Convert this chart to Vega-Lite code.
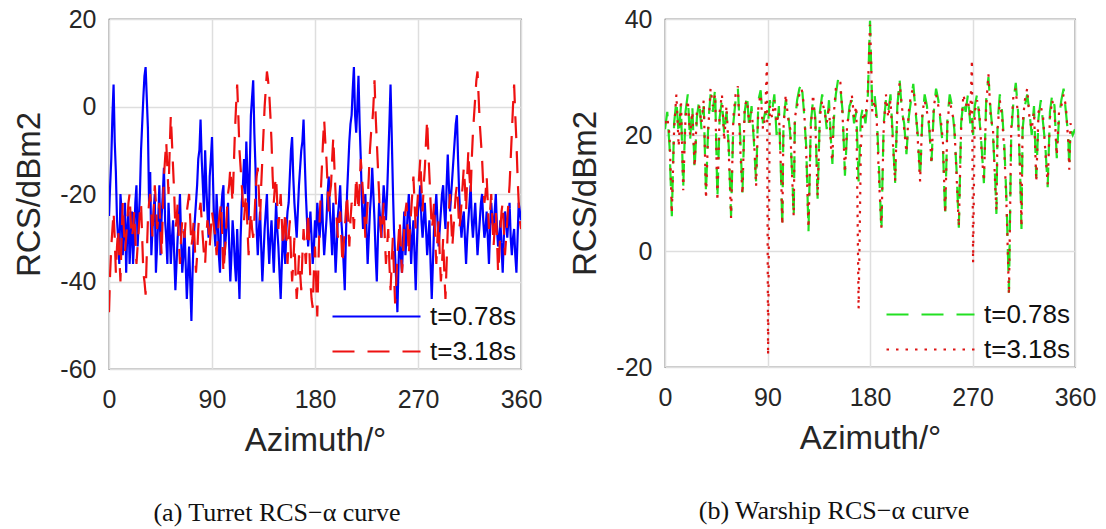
{
"$schema": "https://vega.github.io/schema/vega-lite/v6.json",
"background": "white",
"padding": {"left": 13, "top": 6, "right": 5, "bottom": 0},
"config": {
  "font": "Liberation Sans",
  "view": {"stroke": "#262626", "strokeWidth": 1.2},
  "axis": {"labelFontSize": 25, "titleFontSize": 33, "labelColor": "#262626", "titleColor": "#262626", "titleFontWeight": "normal", "gridColor": "#dedede", "gridWidth": 1.5, "domain": false, "ticks": false, "labelFlush": false, "labelExpr": "datum.value + ''"},
  "axisX": {"labelPadding": 18, "titlePadding": 12},
  "axisY": {"labelPadding": 13, "titlePadding": 13},
  "legend": {"orient": "bottom-right", "title": null, "symbolType": "M-3.4,0H1", "symbolSize": 1600, "symbolStrokeWidth": 2.2, "labelFontSize": 26, "labelColor": "#111111", "rowPadding": -2, "offset": 4, "padding": 0, "labelOffset": 8},
  "title": {"font": "Liberation Serif", "fontSize": 26, "fontWeight": "normal", "orient": "bottom", "anchor": "middle", "color": "#111111", "offset": 43},
  "concat": {"spacing": 26}
},
"resolve": {"scale": {"color": "independent", "strokeDash": "independent"}, "legend": {"color": "independent", "strokeDash": "independent"}},
"hconcat": [
{
  "width": 412, "height": 350,
  "title": {"text": "(a) Turret RCS−α curve", "dx": -38},
  "data": {"values": [
{"x":0,"u":-25,"v":-47},{"x":2,"u":-12,"v":-32},{"x":4,"u":5,"v":-24},{"x":6,"u":-15,"v":-38},{"x":8,"u":-30,"v":-28},{"x":10,"u":-20,"v":-40},{"x":12,"u":-34,"v":-22},{"x":14,"u":-22,"v":-33},{"x":16,"u":-28,"v":-26},{"x":18,"u":-36,"v":-20},
{"x":20,"u":-24,"v":-30},{"x":22,"u":-30,"v":-24},{"x":24,"u":-18,"v":-36},{"x":26,"u":-26,"v":-28},{"x":28,"u":-10,"v":-22},{"x":30,"u":2,"v":-38},{"x":32,"u":9,"v":-43},{"x":34,"u":-5,"v":-26},{"x":36,"u":-15,"v":-20},{"x":38,"u":-28,"v":-30},
{"x":40,"u":-20,"v":-18},{"x":42,"u":-32,"v":-28},{"x":44,"u":-18,"v":-22},{"x":46,"u":-25,"v":-34},{"x":48,"u":-14,"v":-16},{"x":50,"u":-30,"v":-8},{"x":52,"u":-22,"v":-20},{"x":54,"u":-36,"v":-2},{"x":56,"u":-26,"v":-14},{"x":58,"u":-42,"v":-28},
{"x":60,"u":-30,"v":-22},{"x":62,"u":-20,"v":-36},{"x":64,"u":-38,"v":-26},{"x":66,"u":-28,"v":-30},{"x":68,"u":-44,"v":-24},{"x":70,"u":-32,"v":-20},{"x":72,"u":-49,"v":-32},{"x":74,"u":-30,"v":-26},{"x":76,"u":-22,"v":-38},{"x":78,"u":-12,"v":-28},
{"x":80,"u":-3,"v":-22},{"x":82,"u":-18,"v":-30},{"x":84,"u":-10,"v":-36},{"x":86,"u":-24,"v":-26},{"x":88,"u":-16,"v":-32},{"x":90,"u":-7,"v":-24},{"x":92,"u":-28,"v":-28},{"x":94,"u":-20,"v":-34},{"x":96,"u":-34,"v":-26},{"x":98,"u":-24,"v":-22},
{"x":100,"u":-18,"v":-38},{"x":102,"u":-30,"v":-30},{"x":104,"u":-22,"v":-20},{"x":106,"u":-40,"v":-14},{"x":108,"u":-26,"v":-22},{"x":110,"u":-36,"v":-6},{"x":112,"u":-28,"v":5},{"x":114,"u":-44,"v":-10},{"x":116,"u":-22,"v":-18},{"x":118,"u":-12,"v":-26},
{"x":120,"u":-8,"v":-20},{"x":122,"u":-26,"v":-34},{"x":124,"u":-2,"v":-24},{"x":126,"u":6,"v":-30},{"x":128,"u":-14,"v":-20},{"x":130,"u":-34,"v":-14},{"x":132,"u":-24,"v":-26},{"x":134,"u":-40,"v":-12},{"x":136,"u":-28,"v":0},{"x":138,"u":-20,"v":8},
{"x":140,"u":-36,"v":3},{"x":142,"u":-26,"v":-8},{"x":144,"u":-38,"v":-22},{"x":146,"u":-22,"v":-16},{"x":148,"u":-32,"v":-28},{"x":150,"u":-44,"v":-20},{"x":152,"u":-28,"v":-32},{"x":154,"u":-36,"v":-24},{"x":156,"u":-24,"v":-36},{"x":158,"u":-16,"v":-26},
{"x":160,"u":-7,"v":-40},{"x":162,"u":-22,"v":-30},{"x":164,"u":-30,"v":-44},{"x":166,"u":-18,"v":-34},{"x":168,"u":-10,"v":-42},{"x":170,"u":-3,"v":-28},{"x":172,"u":-20,"v":-36},{"x":174,"u":-32,"v":-24},{"x":176,"u":-24,"v":-40},{"x":178,"u":-36,"v":-46},
{"x":180,"u":-26,"v":-32},{"x":182,"u":-22,"v":-48},{"x":184,"u":-30,"v":-26},{"x":186,"u":-20,"v":-14},{"x":188,"u":-34,"v":-3},{"x":190,"u":-26,"v":-12},{"x":192,"u":-16,"v":-24},{"x":194,"u":-28,"v":-18},{"x":196,"u":-22,"v":-7},{"x":198,"u":-38,"v":-20},
{"x":200,"u":-25,"v":-30},{"x":202,"u":-18,"v":-24},{"x":204,"u":-30,"v":-36},{"x":206,"u":-42,"v":-28},{"x":208,"u":-20,"v":-20},{"x":210,"u":-8,"v":-32},{"x":212,"u":-2,"v":-22},{"x":214,"u":9,"v":-28},{"x":216,"u":-6,"v":-16},{"x":218,"u":7,"v":-24},
{"x":220,"u":-12,"v":-12},{"x":222,"u":-28,"v":-20},{"x":224,"u":-20,"v":-30},{"x":226,"u":-36,"v":-22},{"x":228,"u":-24,"v":-10},{"x":230,"u":-14,"v":-4},{"x":232,"u":-26,"v":6},{"x":234,"u":-40,"v":-8},{"x":236,"u":-22,"v":-20},{"x":238,"u":-30,"v":-30},
{"x":240,"u":-18,"v":-22},{"x":242,"u":-26,"v":-36},{"x":244,"u":-12,"v":-28},{"x":246,"u":5,"v":-42},{"x":248,"u":-18,"v":-30},{"x":250,"u":-34,"v":-45},{"x":252,"u":-47,"v":-34},{"x":254,"u":-28,"v":-26},{"x":256,"u":-38,"v":-38},{"x":258,"u":-24,"v":-28},
{"x":260,"u":-30,"v":-22},{"x":262,"u":-20,"v":-34},{"x":264,"u":-36,"v":-24},{"x":266,"u":-26,"v":-16},{"x":268,"u":-42,"v":-28},{"x":270,"u":-24,"v":-20},{"x":272,"u":-18,"v":-12},{"x":274,"u":-30,"v":-24},{"x":276,"u":-22,"v":-14},{"x":278,"u":-34,"v":-3},
{"x":280,"u":-26,"v":-16},{"x":282,"u":-44,"v":-28},{"x":284,"u":-28,"v":-22},{"x":286,"u":-20,"v":-36},{"x":288,"u":-32,"v":-26},{"x":290,"u":-24,"v":-40},{"x":292,"u":-18,"v":-30},{"x":294,"u":-28,"v":-44},{"x":296,"u":-11,"v":-28},{"x":298,"u":-24,"v":-20},
{"x":300,"u":-16,"v":-32},{"x":302,"u":-8,"v":-24},{"x":304,"u":-2,"v":-18},{"x":306,"u":-20,"v":-28},{"x":308,"u":-30,"v":-22},{"x":310,"u":-24,"v":-14},{"x":312,"u":-36,"v":-24},{"x":314,"u":-26,"v":-10},{"x":316,"u":-18,"v":-20},{"x":318,"u":-30,"v":-6},
{"x":320,"u":-22,"v":2},{"x":322,"u":-34,"v":8},{"x":324,"u":-26,"v":-4},{"x":326,"u":-20,"v":-12},{"x":328,"u":-30,"v":-22},{"x":330,"u":-24,"v":-16},{"x":332,"u":-36,"v":-28},{"x":334,"u":-22,"v":-20},{"x":336,"u":-28,"v":-32},{"x":338,"u":-20,"v":-24},
{"x":340,"u":-32,"v":-38},{"x":342,"u":-26,"v":-28},{"x":344,"u":-38,"v":-22},{"x":346,"u":-24,"v":-34},{"x":348,"u":-30,"v":-26},{"x":350,"u":-22,"v":-18},{"x":352,"u":-34,"v":-6},{"x":354,"u":-28,"v":5},{"x":356,"u":-38,"v":-8},{"x":358,"u":-22,"v":-22},
{"x":360,"u":-26,"v":-28},
{"x":1,"u":-18,"v":-38},{"x":3,"u":-2,"v":-28},{"x":5,"u":-8,"v":-30},{"x":7,"u":-26,"v":-32},{"x":9,"u":-36,"v":-34},{"x":11,"u":-24,"v":-30},{"x":13,"u":-28,"v":-28},{"x":15,"u":-38,"v":-30},{"x":17,"u":-24,"v":-22},{"x":19,"u":-30,"v":-26},
{"x":21,"u":-36,"v":-28},{"x":23,"u":-22,"v":-30},{"x":25,"u":-32,"v":-32},{"x":27,"u":-20,"v":-24},{"x":29,"u":-4,"v":-30},{"x":31,"u":7,"v":-40},{"x":33,"u":2,"v":-34},{"x":35,"u":-22,"v":-22},{"x":37,"u":-34,"v":-24},{"x":39,"u":-24,"v":-24},
{"x":41,"u":-38,"v":-22},{"x":43,"u":-26,"v":-26},{"x":45,"u":-34,"v":-28},{"x":47,"u":-20,"v":-24},{"x":49,"u":-26,"v":-12},{"x":51,"u":-36,"v":-14},{"x":53,"u":-28,"v":-10},{"x":55,"u":-30,"v":-8},{"x":57,"u":-34,"v":-20},{"x":59,"u":-36,"v":-26},
{"x":61,"u":-26,"v":-30},{"x":63,"u":-30,"v":-30},{"x":65,"u":-34,"v":-28},{"x":67,"u":-36,"v":-26},{"x":69,"u":-38,"v":-22},{"x":71,"u":-40,"v":-26},{"x":73,"u":-38,"v":-30},{"x":75,"u":-26,"v":-32},{"x":77,"u":-18,"v":-34},{"x":79,"u":-10,"v":-24},
{"x":81,"u":-12,"v":-26},{"x":83,"u":-24,"v":-34},{"x":85,"u":-18,"v":-30},{"x":87,"u":-30,"v":-28},{"x":89,"u":-12,"v":-28},{"x":91,"u":-18,"v":-26},{"x":93,"u":-32,"v":-30},{"x":95,"u":-26,"v":-30},{"x":97,"u":-38,"v":-24},{"x":99,"u":-20,"v":-30},
{"x":101,"u":-34,"v":-34},{"x":103,"u":-26,"v":-24},{"x":105,"u":-32,"v":-18},{"x":107,"u":-34,"v":-18},{"x":109,"u":-30,"v":-14},{"x":111,"u":-40,"v":0},{"x":113,"u":-36,"v":-2},{"x":115,"u":-30,"v":-14},{"x":117,"u":-18,"v":-22},{"x":119,"u":-20,"v":-22},
{"x":121,"u":-16,"v":-28},{"x":123,"u":-14,"v":-28},{"x":125,"u":2,"v":-28},{"x":127,"u":-6,"v":-26},{"x":129,"u":-28,"v":-16},{"x":131,"u":-28,"v":-20},{"x":133,"u":-32,"v":-18},{"x":135,"u":-34,"v":-6},{"x":137,"u":-24,"v":4},{"x":139,"u":-30,"v":6},
{"x":141,"u":-30,"v":-2},{"x":143,"u":-32,"v":-16},{"x":145,"u":-30,"v":-18},{"x":147,"u":-28,"v":-22},{"x":149,"u":-38,"v":-24},{"x":151,"u":-36,"v":-26},{"x":153,"u":-32,"v":-28},{"x":155,"u":-28,"v":-30},{"x":157,"u":-22,"v":-30},{"x":159,"u":-10,"v":-34},
{"x":161,"u":-16,"v":-36},{"x":163,"u":-26,"v":-38},{"x":165,"u":-24,"v":-40},{"x":167,"u":-14,"v":-38},{"x":169,"u":-8,"v":-34},{"x":171,"u":-12,"v":-32},{"x":173,"u":-26,"v":-30},{"x":175,"u":-28,"v":-32},{"x":177,"u":-30,"v":-44},{"x":179,"u":-32,"v":-38},
{"x":181,"u":-30,"v":-40},{"x":183,"u":-26,"v":-36},{"x":185,"u":-26,"v":-20},{"x":187,"u":-28,"v":-8},{"x":189,"u":-30,"v":-8},{"x":191,"u":-20,"v":-18},{"x":193,"u":-24,"v":-20},{"x":195,"u":-34,"v":-12},{"x":197,"u":-30,"v":-14},{"x":199,"u":-32,"v":-26},
{"x":201,"u":-22,"v":-26},{"x":203,"u":-26,"v":-30},{"x":205,"u":-36,"v":-32},{"x":207,"u":-30,"v":-24},{"x":209,"u":-14,"v":-26},{"x":211,"u":-4,"v":-26},{"x":213,"u":4,"v":-24},{"x":215,"u":-2,"v":-22},{"x":217,"u":0,"v":-20},{"x":219,"u":-4,"v":-18},
{"x":221,"u":-22,"v":-16},{"x":223,"u":-24,"v":-24},{"x":225,"u":-28,"v":-26},{"x":227,"u":-30,"v":-16},{"x":229,"u":-20,"v":-6},{"x":231,"u":-20,"v":0},{"x":233,"u":-34,"v":-2},{"x":235,"u":-30,"v":-14},{"x":237,"u":-26,"v":-26},{"x":239,"u":-24,"v":-26},
{"x":241,"u":-22,"v":-30},{"x":243,"u":-20,"v":-32},{"x":245,"u":-4,"v":-36},{"x":247,"u":-6,"v":-36},{"x":249,"u":-28,"v":-38},{"x":251,"u":-40,"v":-40},{"x":253,"u":-36,"v":-30},{"x":255,"u":-34,"v":-32},{"x":257,"u":-30,"v":-34},{"x":259,"u":-34,"v":-24},
{"x":261,"u":-24,"v":-28},{"x":263,"u":-28,"v":-28},{"x":265,"u":-30,"v":-20},{"x":267,"u":-34,"v":-22},{"x":269,"u":-32,"v":-24},{"x":271,"u":-22,"v":-16},{"x":273,"u":-26,"v":-18},{"x":275,"u":-26,"v":-18},{"x":277,"u":-28,"v":-8},{"x":279,"u":-30,"v":-10},
{"x":281,"u":-36,"v":-22},{"x":283,"u":-36,"v":-26},{"x":285,"u":-24,"v":-30},{"x":287,"u":-26,"v":-30},{"x":289,"u":-28,"v":-34},{"x":291,"u":-20,"v":-36},{"x":293,"u":-24,"v":-38},{"x":295,"u":-18,"v":-36},{"x":297,"u":-18,"v":-24},{"x":299,"u":-20,"v":-26},
{"x":301,"u":-12,"v":-28},{"x":303,"u":-4,"v":-20},{"x":305,"u":-12,"v":-22},{"x":307,"u":-26,"v":-26},{"x":309,"u":-26,"v":-18},{"x":311,"u":-30,"v":-18},{"x":313,"u":-30,"v":-16},{"x":315,"u":-22,"v":-16},{"x":317,"u":-26,"v":-12},{"x":319,"u":-26,"v":-2},
{"x":321,"u":-28,"v":6},{"x":323,"u":-30,"v":2},{"x":325,"u":-22,"v":-8},{"x":327,"u":-26,"v":-18},{"x":329,"u":-28,"v":-20},{"x":331,"u":-30,"v":-22},{"x":333,"u":-28,"v":-24},{"x":335,"u":-26,"v":-26},{"x":337,"u":-24,"v":-28},{"x":339,"u":-28,"v":-30},
{"x":341,"u":-30,"v":-34},{"x":343,"u":-32,"v":-24},{"x":345,"u":-30,"v":-28},{"x":347,"u":-26,"v":-30},{"x":349,"u":-26,"v":-22},{"x":351,"u":-30,"v":-12},{"x":353,"u":-30,"v":0},{"x":355,"u":-34,"v":-2},{"x":357,"u":-30,"v":-16},{"x":359,"u":-24,"v":-26}
  ]},
  "transform": [{"fold": ["u", "v"], "as": ["s", "y"]}],
  "mark": {"type": "line", "strokeWidth": 2.2, "clip": true},
  "encoding": {
    "x": {"field": "x", "type": "quantitative", "scale": {"domain": [0, 360], "nice": false}, "axis": {"values": [0, 90, 180, 270, 360], "title": "Azimuth/°"}},
    "y": {"field": "y", "type": "quantitative", "scale": {"domain": [-60, 20], "nice": false}, "axis": {"values": [-60, -40, -20, 0, 20], "title": "RCS/dBm2"}},
    "color": {"field": "s", "type": "nominal", "scale": {"domain": ["u", "v"], "range": ["#0000ff", "#ee1111"]}, "legend": {"labelExpr": "datum.label == 'u' ? 't=0.78s' : 't=3.18s'"}},
    "strokeDash": {"field": "s", "type": "nominal", "scale": {"domain": ["u", "v"], "range": [[1, 0], [22, 13]]}, "legend": {"labelExpr": "datum.label == 'u' ? 't=0.78s' : 't=3.18s'"}}
  }
},
{
  "width": 410, "height": 348,
  "title": {"text": "(b) Warship RCS−α curve", "dx": -36},
  "data": {"values": [
{"x":0,"g":21,"r":22},{"x":2,"g":24,"r":23},{"x":4,"g":18,"r":20},{"x":6,"g":6,"r":6.5},{"x":8,"g":22,"r":21},{"x":10,"g":26,"r":27},{"x":12,"g":20,"r":18},{"x":14,"g":25,"r":26},{"x":16,"g":11,"r":10.5},{"x":18,"g":24,"r":23},
{"x":20,"g":27,"r":26},{"x":22,"g":19,"r":20},{"x":24,"g":25,"r":24},{"x":26,"g":14,"r":14.5},{"x":28,"g":23,"r":24},{"x":30,"g":26,"r":25},{"x":32,"g":21,"r":22},{"x":34,"g":25,"r":26},{"x":36,"g":10,"r":9},{"x":38,"g":22,"r":21},
{"x":40,"g":27,"r":28},{"x":42,"g":24,"r":25},{"x":44,"g":28,"r":27},{"x":46,"g":9,"r":8.6},{"x":48,"g":23,"r":24},{"x":50,"g":26,"r":27},{"x":52,"g":20,"r":19},{"x":54,"g":24,"r":25},{"x":56,"g":18,"r":17},{"x":58,"g":6,"r":5.7},
{"x":60,"g":22,"r":23},{"x":62,"g":26,"r":27},{"x":64,"g":28,"r":28.4},{"x":66,"g":20,"r":18},{"x":68,"g":10,"r":9.8},{"x":70,"g":24,"r":25},{"x":72,"g":27,"r":26},{"x":74,"g":21,"r":22},{"x":76,"g":25,"r":24},{"x":78,"g":19,"r":20},
{"x":80,"g":12,"r":11.2},{"x":82,"g":26,"r":25},{"x":84,"g":27.7,"r":27},{"x":86,"g":22,"r":21},{"x":88,"g":24,"r":23},{"x":89.5,"g":23,"r":33},{"x":90.5,"g":22,"r":-18},{"x":92,"g":26,"r":25},{"x":94,"g":24,"r":23},{"x":96,"g":27,"r":26},
{"x":98,"g":20,"r":22},{"x":100,"g":25,"r":24},{"x":102,"g":12,"r":13},{"x":103,"g":4,"r":4.5},{"x":104,"g":22,"r":21},{"x":106,"g":26,"r":27},{"x":108,"g":24,"r":23},{"x":110,"g":20,"r":21},{"x":112,"g":12,"r":11},{"x":113,"g":5.7,"r":6},
{"x":114,"g":22,"r":23},{"x":116,"g":26,"r":25},{"x":118,"g":28,"r":27},{"x":120,"g":29,"r":28},{"x":122,"g":24,"r":25},{"x":124,"g":18,"r":17},{"x":126,"g":3.4,"r":4},{"x":128,"g":22,"r":21},{"x":130,"g":26,"r":27},{"x":132,"g":23,"r":22},
{"x":134,"g":9,"r":9.5},{"x":136,"g":24,"r":23},{"x":138,"g":27,"r":26},{"x":140,"g":25,"r":24},{"x":142,"g":21,"r":22},{"x":144,"g":26,"r":25},{"x":146,"g":18,"r":17},{"x":147,"g":15,"r":15.5},{"x":148,"g":22,"r":23},{"x":150,"g":27,"r":28},
{"x":152,"g":29.6,"r":29},{"x":154,"g":28,"r":29},{"x":156,"g":24,"r":23},{"x":158,"g":13,"r":13.5},{"x":160,"g":21,"r":22},{"x":162,"g":25,"r":24},{"x":164,"g":26,"r":27},{"x":166,"g":22,"r":23},{"x":168,"g":24,"r":25},{"x":170,"g":12,"r":-10},
{"x":172,"g":23,"r":18},{"x":174,"g":25,"r":24},{"x":176,"g":22,"r":23},{"x":178,"g":26,"r":27},{"x":180,"g":39.7,"r":39},{"x":181,"g":32,"r":33},{"x":182,"g":25,"r":24},{"x":184,"g":27,"r":26},{"x":186,"g":23,"r":22},{"x":188,"g":14,"r":12},
{"x":190,"g":3.4,"r":4},{"x":192,"g":22,"r":21},{"x":194,"g":26,"r":27},{"x":196,"g":24,"r":23},{"x":198,"g":27,"r":26},{"x":200,"g":20,"r":19},{"x":202,"g":11.7,"r":12},{"x":204,"g":25,"r":24},{"x":206,"g":29.6,"r":29},{"x":208,"g":24,"r":25},
{"x":210,"g":22,"r":21},{"x":212,"g":16.7,"r":17},{"x":214,"g":23,"r":24},{"x":216,"g":26,"r":27},{"x":218,"g":28.8,"r":28},{"x":220,"g":24,"r":25},{"x":222,"g":20,"r":19},{"x":224,"g":12.6,"r":12},{"x":226,"g":23,"r":24},{"x":228,"g":27,"r":26},
{"x":230,"g":25,"r":24},{"x":232,"g":21,"r":22},{"x":234,"g":15.5,"r":15},{"x":236,"g":24,"r":25},{"x":238,"g":28,"r":27},{"x":240,"g":26,"r":25},{"x":242,"g":22,"r":23},{"x":244,"g":18,"r":19},{"x":246,"g":6,"r":6.5},{"x":248,"g":23,"r":22},
{"x":250,"g":27,"r":26},{"x":252,"g":25,"r":24},{"x":254,"g":21,"r":22},{"x":256,"g":14,"r":13},{"x":258,"g":4,"r":4.2},{"x":260,"g":22,"r":21},{"x":262,"g":26,"r":27},{"x":264,"g":24,"r":25},{"x":266,"g":27,"r":26},{"x":268,"g":22,"r":23},
{"x":269.5,"g":24,"r":33},{"x":270.5,"g":20,"r":-2},{"x":272,"g":25,"r":24},{"x":274,"g":27,"r":26},{"x":276,"g":23,"r":24},{"x":278,"g":18,"r":17},{"x":280,"g":11.7,"r":12},{"x":282,"g":26,"r":25},{"x":284,"g":30,"r":30.5},{"x":286,"g":24,"r":23},
{"x":288,"g":20,"r":21},{"x":290,"g":12,"r":11},{"x":291,"g":6.4,"r":7},{"x":292,"g":22,"r":21},{"x":294,"g":27,"r":26},{"x":296,"g":24,"r":23},{"x":298,"g":18,"r":17},{"x":300,"g":8,"r":7},{"x":302,"g":-7.2,"r":-7.5},{"x":304,"g":20,"r":21},
{"x":306,"g":26,"r":27},{"x":308,"g":29,"r":28},{"x":310,"g":24,"r":23},{"x":312,"g":12,"r":13},{"x":313,"g":3.8,"r":4.2},{"x":314,"g":21,"r":22},{"x":316,"g":25,"r":26},{"x":318,"g":27,"r":28},{"x":320,"g":24,"r":23},{"x":322,"g":20,"r":21},
{"x":324,"g":25,"r":24},{"x":326,"g":12.6,"r":12},{"x":328,"g":23,"r":24},{"x":330,"g":26,"r":25},{"x":332,"g":22,"r":23},{"x":334,"g":18,"r":17},{"x":336,"g":11,"r":11.5},{"x":338,"g":24,"r":23},{"x":340,"g":27,"r":26},{"x":342,"g":25,"r":24},
{"x":344,"g":16,"r":16.5},{"x":346,"g":23,"r":24},{"x":348,"g":26,"r":25},{"x":350,"g":28,"r":27},{"x":352,"g":24,"r":25},{"x":354,"g":20,"r":19},{"x":355,"g":14.3,"r":14},{"x":356,"g":21,"r":22},{"x":358,"g":20,"r":21},{"x":360,"g":21,"r":21}
  ]},
  "transform": [{"fold": ["g", "r"], "as": ["k", "y"]}],
  "mark": {"type": "line", "strokeWidth": 2.2, "clip": true},
  "encoding": {
    "x": {"field": "x", "type": "quantitative", "scale": {"domain": [0, 360], "nice": false}, "axis": {"values": [0, 90, 180, 270, 360], "title": "Azimuth/°"}},
    "y": {"field": "y", "type": "quantitative", "scale": {"domain": [-20, 40], "nice": false}, "axis": {"values": [-20, 0, 20, 40], "title": "RCS/dBm2"}},
    "color": {"field": "k", "type": "nominal", "scale": {"domain": ["g", "r"], "range": ["#22e022", "#dd1515"]}, "legend": {"labelExpr": "datum.label == 'g' ? 't=0.78s' : 't=3.18s'"}},
    "strokeDash": {"field": "k", "type": "nominal", "scale": {"domain": ["g", "r"], "range": [[22, 13], [2.5, 7]]}, "legend": {"labelExpr": "datum.label == 'g' ? 't=0.78s' : 't=3.18s'"}}
  }
}
]
}
